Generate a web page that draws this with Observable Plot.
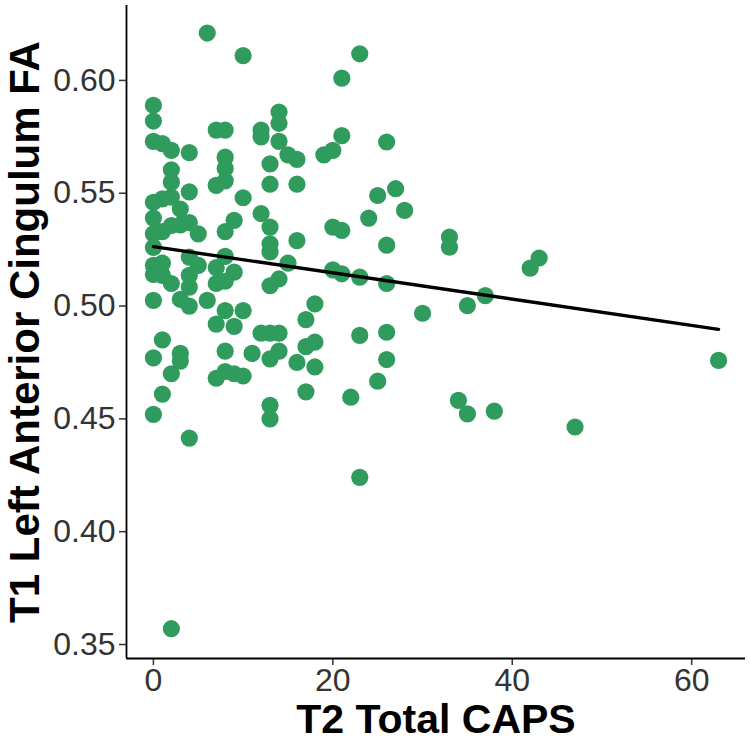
<!DOCTYPE html>
<html>
<head>
<meta charset="utf-8">
<script src="https://cdn.jsdelivr.net/npm/d3@7"></script>
<script src="https://cdn.jsdelivr.net/npm/@observablehq/plot@0.6"></script>
<style>
  html, body { margin: 0; padding: 0; background: #fff; }
  #chart { width: 750px; height: 741px; }
</style>
</head>
<body>
<div id="chart"></div>
<script>
// T2 Total CAPS (x) for each participant
const caps = [
  0,0,0,0,0,0,0,0,0,0,0,0,
  1,1,1,1,1,1,1,
  2,2,2,2,2,2,2,2,
  3,3,3,3,3,
  4,4,4,4,4,4,4,4,
  5,5,
  6,6,
  7,7,7,7,7,7,
  8,8,8,8,8,8,8,8,8,8,
  9,9,9,9,
  10,10,10,10,
  11,
  12,12,12,12,
  13,13,13,13,13,13,13,13,13,13,
  14,14,14,14,14,14,
  15,15,
  16,16,16,16,
  17,17,17,
  18,18,18,
  19,
  20,20,20,
  21,21,21,21,
  22,
  23,23,23,23,
  24,
  25,25,
  26,26,26,26,26,
  27,
  28,
  30,
  33,33,
  34,
  35,35,
  37,
  38,
  42,
  43,
  47,
  63
];
// T1 Left Anterior Cingulum FA (y), same order
const fa = [
  0.589,0.582,0.573,0.546,0.539,0.532,0.526,0.518,0.514,0.5025,0.477,0.452,
  0.572,0.5475,0.533,0.519,0.5136,0.485,0.461,
  0.569,0.5604,0.5549,0.5483,0.5357,0.510,0.470,0.357,
  0.543,0.536,0.503,0.479,0.4756,
  0.568,0.5506,0.537,0.5217,0.5136,0.5084,0.500,0.4415,
  0.532,0.518,
  0.621,0.5025,
  0.578,0.5535,0.517,0.510,0.492,0.468,
  0.578,0.566,0.561,0.5555,0.533,0.522,0.511,0.498,0.480,0.471,
  0.538,0.515,0.491,0.470,
  0.611,0.548,0.498,0.469,
  0.479,
  0.578,0.575,0.541,0.488,
  0.563,0.554,0.535,0.5276,0.524,0.509,0.488,0.4766,0.456,0.450,
  0.586,0.581,0.573,0.512,0.488,0.480,
  0.567,0.519,
  0.565,0.554,0.529,0.475,
  0.494,0.482,0.462,
  0.501,0.484,0.473,
  0.567,
  0.569,0.535,0.516,
  0.601,0.5755,0.5335,0.5143,
  0.4596,
  0.6118,0.5128,0.487,0.4241,
  0.539,
  0.549,0.4667,
  0.5727,0.527,0.510,0.4884,0.4763,
  0.552,
  0.5424,
  0.4968,
  0.5306,0.5261,
  0.4582,
  0.5002,0.4522,
  0.5046,
  0.4534,
  0.5168,
  0.5213,
  0.4464,
  0.4759
];

const xTicks = [0, 20, 40, 60];
const yTicks = [0.35, 0.40, 0.45, 0.50, 0.55, 0.60];
const xDomain = [-3.0, 66.0];
const yDomain = [0.3438, 0.6332];
const xTitle = "T2 Total CAPS";
const yTitle = "T1 Left Anterior Cingulum FA";

const data = caps.map((c, i) => ({caps: c, fa: fa[i]}));

const chart = Plot.plot({
  width: 750,
  height: 741,
  marginLeft: 126,
  marginRight: 5,
  marginTop: 5,
  marginBottom: 83,
  style: {fontFamily: "'Liberation Sans', Arial, sans-serif", background: "#fff"},
  x: {domain: xDomain},
  y: {domain: yDomain},
  marks: [
    Plot.axisX({ticks: xTicks, tickSize: 7, tickPadding: 3, fontSize: 32, color: "#333", label: null, strokeWidth: 1.5}),
    Plot.axisY({ticks: yTicks, tickFormat: d => d.toFixed(2), tickSize: 7, tickPadding: 4, fontSize: 32, color: "#333", label: null, strokeWidth: 1.5}),
    Plot.ruleX([xDomain[0]], {stroke: "#000", strokeWidth: 1.8}),
    Plot.ruleY([yDomain[0]], {stroke: "#000", strokeWidth: 1.8}),
    Plot.dot(data, {x: "caps", y: "fa", r: 8.6, fill: "#2f9c5d", stroke: "none"}),
    Plot.linearRegressionY(data, {x: "caps", y: "fa", stroke: "#000", strokeWidth: 3.4, ci: 0}),
    Plot.text([yTitle], {frameAnchor: "left", dx: -101, rotate: -90, textAnchor: "middle", lineAnchor: "middle", fontSize: 42, fontWeight: "bold", fill: "#000"}),
    Plot.text([xTitle], {frameAnchor: "bottom", dy: 61, textAnchor: "middle", lineAnchor: "middle", fontSize: 41, fontWeight: "bold", fill: "#000"})
  ]
});
document.getElementById("chart").appendChild(chart);
</script>
</body>
</html>
